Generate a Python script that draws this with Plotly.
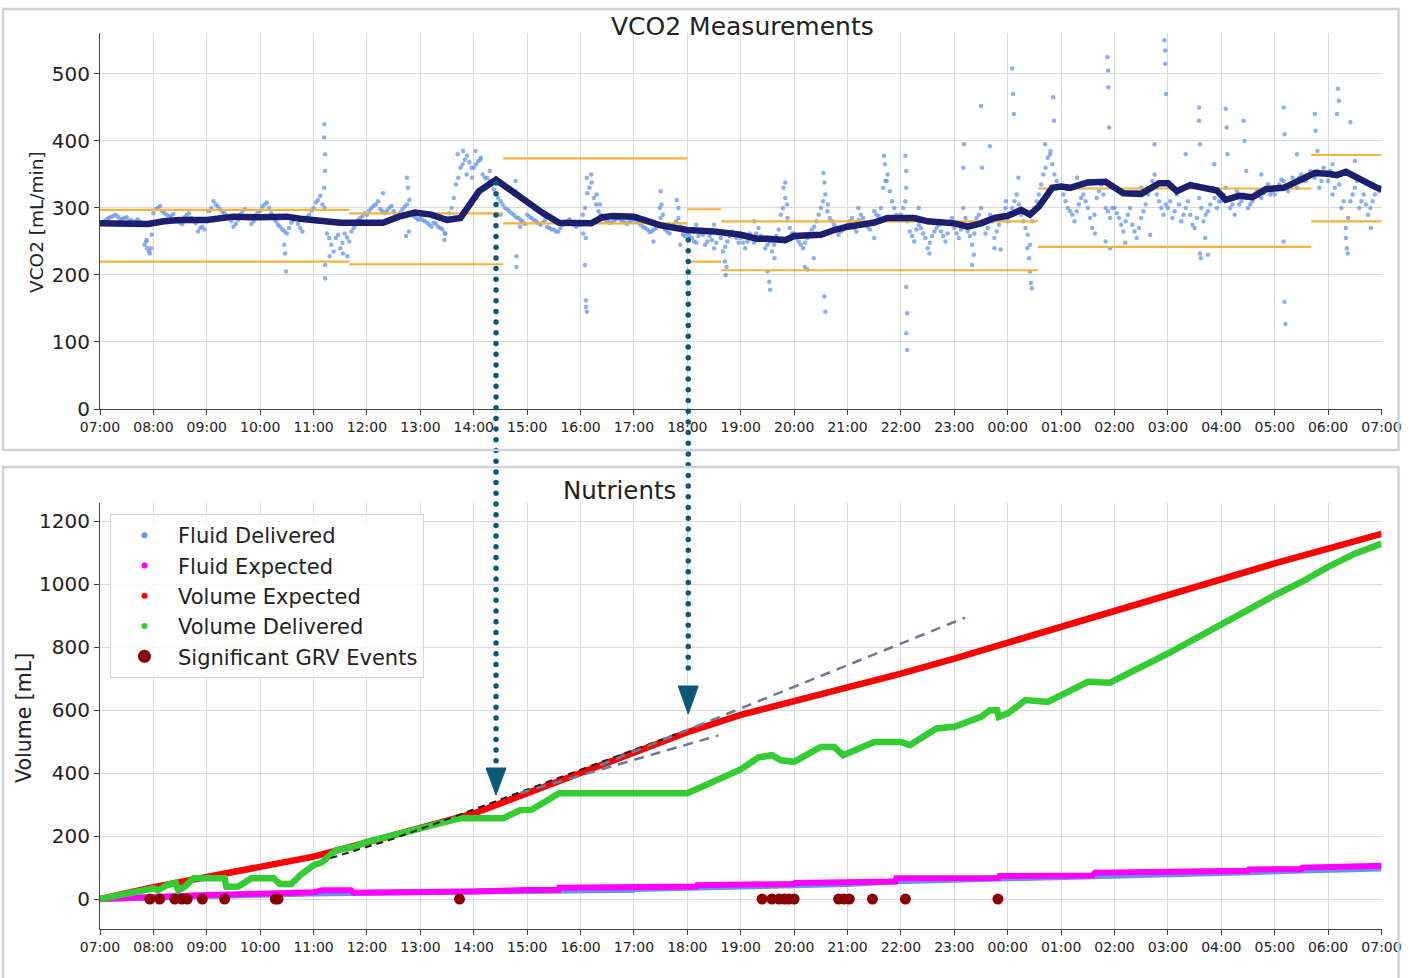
import plotly.graph_objects as go

W, H = 1411, 978

hour_labels = ["07:00", "08:00", "09:00", "10:00", "11:00", "12:00", "13:00", "14:00",
               "15:00", "16:00", "17:00", "18:00", "19:00", "20:00", "21:00", "22:00",
               "23:00", "00:00", "01:00", "02:00", "03:00", "04:00", "05:00", "06:00", "07:00"]

# ---- VCO2 raw samples (one row per hour starting 07:00, one value every 5 min) ----
vco2_rows = [
    [278, 280, 285, 288, 287, 284, 286, 282, 280, 279, 245, 235],  # 07
    [292, 300, 295, 290, 288, 283, 278, 286, 292, 280, 265, 272],  # 08
    [280, 300, 305, 298, 292, 286, 272, 282, 295, 288, 276, 290],  # 09
    [296, 305, 300, 285, 275, 268, 262, 278, 285, 270, 282, 290],  # 10
    [300, 312, 305, 262, 245, 255, 240, 262, 250, 270, 282, 288],  # 11
    [290, 300, 305, 298, 292, 300, 295, 290, 298, 305, 292, 285],  # 12
    [285, 280, 275, 278, 272, 268, 285, 300, 335, 360, 372, 368],  # 13
    [360, 370, 350, 345, 335, 320, 310, 300, 295, 290, 285, 280],  # 14
    [290, 285, 280, 275, 282, 270, 268, 265, 275, 280, 278, 272],  # 15
    [275, 300, 330, 315, 295, 285, 280, 278, 283, 282, 278, 280],  # 16
    [283, 278, 272, 268, 265, 270, 285, 268, 262, 275, 285, 260],  # 17
    [262, 255, 248, 265, 245, 258, 240, 262, 235, 250, 265, 255],  # 18
    [255, 240, 262, 248, 270, 255, 245, 235, 258, 290, 315, 270],  # 19
    [262, 250, 240, 255, 268, 280, 300, 320, 285, 275, 260, 268],  # 20
    [275, 285, 265, 290, 278, 268, 295, 288, 330, 350, 310, 290],  # 21
    [290, 310, 265, 250, 275, 262, 240, 258, 270, 265, 250, 280],  # 22
    [270, 255, 300, 265, 245, 285, 300, 262, 290, 255, 275, 290],  # 23
    [280, 300, 320, 290, 270, 245, 300, 320, 350, 375, 365, 340],  # 00
    [330, 310, 295, 280, 305, 320, 300, 270, 315, 335, 300, 285],  # 01
    [300, 285, 265, 290, 275, 255, 285, 305, 330, 350, 310, 290],  # 02
    [300, 285, 320, 280, 300, 290, 270, 315, 280, 295, 330, 300],  # 03
    [310, 330, 300, 315, 305, 320, 300, 310, 325, 315, 330, 320],  # 04
    [320, 335, 340, 325, 345, 330, 350, 340, 355, 345, 330, 360],  # 05
    [340, 320, 350, 300, 270, 310, 330, 300, 320, 290, 310, 330],  # 06
]
# second pass of readings, taken 2.5 min after those above
vco2_rows_b = [
    [276, 283, 287, 290, 283, 285, 281, 279, 283, 276, 252, 240],  # 07
    [298, 303, 292, 287, 291, 280, 276, 289, 285, 277, 270, 268],  # 08
    [295, 310, 302, 294, 288, 280, 276, 290, 298, 284, 280, 294],  # 09
    [302, 308, 292, 280, 272, 265, 270, 282, 276, 265, 286, 296],  # 10
    [308, 318, 300, 255, 235, 260, 248, 256, 265, 275, 285, 292],  # 11
    [296, 303, 310, 295, 296, 303, 290, 293, 302, 312, 288, 282],  # 12
    [282, 278, 272, 276, 270, 262, 292, 315, 345, 365, 378, 360],  # 13
    [365, 372, 345, 340, 328, 315, 305, 298, 292, 286, 282, 276],  # 14
    [287, 282, 277, 278, 272, 268, 265, 270, 278, 283, 275, 274],  # 15
    [290, 322, 338, 305, 290, 283, 278, 281, 286, 280, 276, 282],  # 16
    [280, 275, 270, 264, 268, 275, 290, 265, 270, 280, 272, 258],  # 17
    [258, 250, 258, 260, 250, 252, 248, 255, 242, 258, 260, 248],  # 18
    [248, 250, 256, 262, 258, 240, 250, 245, 268, 300, 285, 262],  # 19
    [255, 245, 248, 262, 272, 290, 310, 295, 280, 270, 265, 272],  # 20
    [280, 270, 282, 285, 272, 280, 290, 300, 340, 325, 300, 285],  # 21
    [300, 280, 258, 268, 270, 255, 248, 265, 275, 258, 262, 285],  # 22
    [262, 268, 285, 258, 262, 290, 280, 270, 280, 265, 282, 300],  # 23
    [292, 310, 305, 280, 260, 280, 310, 335, 360, 380, 350, 330],  # 00
    [320, 300, 290, 295, 315, 310, 285, 290, 325, 320, 295, 300],  # 01
    [292, 275, 280, 300, 265, 270, 295, 320, 340, 320, 300, 305],  # 02
    [310, 295, 305, 290, 310, 275, 285, 300, 290, 305, 315, 310],  # 03
    [320, 315, 305, 325, 310, 315, 305, 320, 318, 322, 335, 325],  # 04
    [328, 342, 330, 335, 338, 345, 340, 348, 350, 355, 340, 352],  # 05
    [355, 330, 335, 310, 285, 320, 340, 310, 305, 300, 320, 325],  # 06
]

# extra scattered VCO2 readings (spikes and dips)
vco2_extra_times = [
    "07:52", "07:53", "07:56", "07:58", "10:27", "10:28", "10:29",
    "11:12", "11:12", "11:13", "11:13", "11:12", "11:13", "11:13", "11:18", "11:33", "11:38",
    "12:18", "12:45", "12:46", "12:47", "12:44",
    "13:27", "13:28", "13:42", "13:48", "13:52", "13:58",
    "14:02", "14:08", "14:18", "14:47", "14:47", "14:48", "14:48", "14:30", "14:52",
    "16:07", "16:12", "16:18", "16:03", "16:06", "16:05", "16:06", "16:06", "16:07", "16:22",
    "17:30", "17:31", "17:29", "17:48", "17:50", "17:22", "17:52",
    "18:42", "18:44", "18:43", "18:30", "18:10",
    "19:30", "19:32", "19:33", "19:48", "19:50", "19:52", "19:38", "19:15",
    "20:33", "20:34", "20:12", "20:15", "20:34", "20:35", "20:38", "20:22",
    "21:41", "21:42", "21:44", "21:30", "21:12",
    "22:05", "22:06", "22:06", "22:06", "22:07", "22:06", "22:07", "22:20", "22:32",
    "23:10", "23:11", "23:20", "23:22", "23:30", "23:31", "23:40", "23:45", "23:52", "23:58",
    "00:05", "00:06", "00:07", "00:24", "00:25", "00:26", "00:27", "00:42", "00:48", "00:51", "00:52", "00:12", "00:22",
    "01:52", "01:53", "01:53", "01:54", "01:50", "01:55", "01:30", "01:18", "01:38",
    "02:56", "02:57", "02:57", "02:58", "02:45", "02:12", "02:40", "02:30",
    "03:35", "03:35", "03:36", "03:36", "03:37", "03:45", "03:52", "03:20", "03:42",
    "04:05", "04:06", "04:07", "04:25", "04:26", "04:28", "04:45", "04:15",
    "05:10", "05:11", "05:10", "05:11", "05:12", "05:45", "05:46", "05:48", "05:25",
    "06:11", "06:12", "06:10", "06:20", "06:21", "06:22", "06:25", "06:30", "06:05", "06:48",
]
vco2_extra_values = [
    250, 240, 232, 260, 245, 232, 205,
    425, 405, 380, 355, 330, 215, 195, 228, 232, 228,
    322, 345, 330, 265, 258,
    252, 262, 380, 385, 350, 345,
    385, 375, 355, 340, 325, 228, 212, 290, 272,
    345, 350, 320, 262, 255, 215, 162, 152, 145, 305,
    325, 305, 300, 312, 300, 250, 245,
    220, 212, 200, 275, 275,
    205, 190, 178, 330, 338, 305, 225, 280,
    352, 338, 212, 208, 168, 145, 305, 225,
    378, 365, 340, 255, 300,
    378, 355, 330, 182, 143, 113, 88, 300, 232,
    360, 395, 215, 230, 452, 360, 392, 240, 238, 310,
    508, 470, 440, 225, 205, 188, 180, 395, 385, 465, 430, 345, 240,
    525, 505, 480, 420, 250, 240, 340, 345, 262,
    550, 535, 515, 470, 395, 248, 260, 330,
    450, 430, 395, 232, 225, 230, 365, 380, 255,
    448, 420, 380, 430, 400, 355, 350, 290,
    450, 410, 250, 160, 127, 440, 415, 385, 380,
    478, 460, 440, 255, 240, 232, 428, 370, 365, 270,
]

# smoothed VCO2 trend
trend_times = ["07:00", "07:30", "07:54", "08:12", "08:30", "09:00", "09:18", "09:30", "10:00", "10:30",
               "10:45", "11:00", "11:18", "11:30", "12:00", "12:18", "12:36", "12:54", "13:12", "13:30",
               "13:45", "14:00", "14:06", "14:25", "14:42", "15:00", "15:18", "15:36", "16:00", "16:12",
               "16:24", "16:36", "17:00", "17:18", "17:30", "18:00", "18:30", "19:00", "19:18", "19:30",
               "19:50", "20:00", "20:30", "20:45", "21:00", "21:30", "21:45", "22:15", "22:30", "23:00",
               "23:15", "23:30", "23:45", "00:00", "00:15", "00:25", "00:35", "00:50", "01:00", "01:10",
               "01:30", "01:50", "02:10", "02:30", "02:50", "03:00", "03:10", "03:25", "03:40", "03:55",
               "04:05", "04:20", "04:35", "04:50", "05:10", "05:25", "05:45", "06:00", "06:10", "06:20",
               "06:40", "06:55", "07:00"]
trend_values = [277, 277, 276, 280, 282, 282, 286, 287, 286, 287,
                284, 282, 282, 278, 278, 278, 287, 293, 290, 282,
                285, 312, 325, 342, 325, 307, 292, 278, 278, 277,
                286, 288, 287, 280, 274, 267, 265, 260, 254, 254,
                252, 258, 260, 267, 272, 278, 285, 285, 280, 277,
                272, 277, 285, 288, 297, 290, 302, 330, 332, 330,
                338, 339, 322, 321, 337, 337, 325, 334, 330, 326,
                312, 318, 316, 328, 330, 339, 352, 351, 349, 354,
                339, 330, 328]

# expected VCO2 range (step bounds)
bound_edges = ["07:00", "11:40", "14:33", "18:00", "18:38", "00:34", "05:41", "07:00"]
upper_bound = [297, 292, 374, 298, 280, 329, 379]
lower_bound = [220, 216, 277, 220, 207, 242, 280]

# ---- Nutrients ----
vol_expected_times = hour_labels
vol_expected = [0, 38, 70, 100, 135, 180, 225, 272, 336, 400, 463, 530, 585, 627, 670, 716,
                764, 815, 864, 912, 965, 1017, 1066, 1113, 1160]

vol_delivered_times = ["07:00", "07:30", "08:00", "08:05", "08:15", "08:25", "08:28", "08:35", "08:45", "09:20",
                       "09:22", "09:35", "09:50", "10:15", "10:22", "10:35", "10:45", "11:00", "11:10", "11:25",
                       "11:45", "12:00", "13:00", "13:45", "14:33", "14:52", "15:05", "15:36", "18:00", "18:40",
                       "19:00", "19:20", "19:35", "19:45", "20:00", "20:30", "20:45", "20:55", "21:15", "21:30",
                       "22:00", "22:10", "22:40", "23:00", "23:30", "23:40", "23:48", "23:50", "00:00", "00:20",
                       "00:45", "01:00", "01:30", "01:55", "02:00", "03:00", "03:30", "03:45", "04:00", "04:30",
                       "05:00", "05:30", "06:00", "06:30", "07:00"]
vol_delivered = [0, 19, 34, 28, 44, 52, 28, 39, 66, 66,
                 39, 39, 66, 66, 48, 48, 76, 108, 118, 155,
                 166, 182, 224, 257, 257, 282, 284, 336, 336, 390,
                 412, 450, 457, 441, 436, 483, 483, 457, 483, 499,
                 499, 489, 542, 547, 579, 600, 600, 579, 590, 632,
                 626, 648, 690, 687, 695, 780, 827, 849, 875, 923,
                 965, 1007, 1055, 1097, 1129]

fluid_expected_times = ["07:00", "08:00", "09:00", "10:00", "11:00", "11:10", "11:42", "11:45", "13:00", "14:00",
                        "15:00", "15:35", "15:36", "17:00", "17:01", "18:10", "18:11", "19:00", "19:01", "20:00",
                        "20:01", "21:00", "21:01", "21:54", "21:55", "23:50", "23:51", "01:35", "01:38", "03:30",
                        "03:31", "04:30", "04:31", "05:30", "05:31", "06:40", "06:42", "07:00"]
fluid_expected = [0, 8, 13, 17, 22, 28, 28, 20, 21, 24,
                  29, 29, 36, 36, 39, 40, 44, 44, 48, 48,
                  51, 52, 55, 56, 66, 67, 73, 75, 84, 85,
                  89, 90, 94, 95, 100, 101, 105, 106]

fluid_delivered_times = ["07:00", "08:00", "09:00", "10:00", "11:00", "11:45", "13:00", "14:00", "15:00", "15:36",
                         "17:00", "17:01", "18:11", "19:01", "20:01", "21:01", "21:55", "23:51", "01:38", "03:31",
                         "04:31", "05:31", "06:42", "07:00"]
fluid_delivered = [0, 6, 10, 14, 18, 19, 20, 22, 25, 28,
                   30, 32, 36, 40, 44, 48, 57, 64, 75, 80,
                   85, 91, 96, 97]

grv_times = ["07:56", "08:07", "08:24", "08:32", "08:38", "08:55", "09:20", "10:17", "10:20", "13:44",
             "19:24", "19:35", "19:43", "19:49", "19:54", "20:00", "20:50", "20:56", "21:02", "21:28",
             "22:05", "23:49"]
grv_values = [0] * len(grv_times)

# annotation helper lines (slopes)
tangent_times = ["11:19", "12:30", "13:22", "15:14", "16:29", "17:59"]
tangent_values = [130, 192, 245, 362, 441, 536]
slope_a_times = ["16:22", "23:12"]
slope_a_values = [425, 894]
slope_b_times = ["14:52", "18:35"]
slope_b_values = [337, 520]

arrow_times = ["14:25", "18:01"]


def hm(s):
    h, m = map(int, s.split(":"))
    return (h - 7) % 24 + m / 60.0


def unwrap(ts):
    out, prev = [], -1.0
    for s in ts:
        v = hm(s)
        if v < prev - 1e-9:
            v += 24
        out.append(v)
        prev = v
    return out


# ---- derived arrays ----
raw_x, raw_y = [], []
for offset, rows in ((0.0, vco2_rows), (2.5, vco2_rows_b)):
    for i, row in enumerate(rows):
        for j, v in enumerate(row):
            raw_x.append(i + (j * 5 + offset) / 60.0)
            raw_y.append(v)
raw_x += [hm(t) for t in vco2_extra_times]
raw_y += vco2_extra_values

edges = unwrap(bound_edges)


def step_xy(vals):
    xs, ys = [], []
    for k, v in enumerate(vals):
        xs += [edges[k], edges[k + 1], None]
        ys += [v, v, None]
    return xs, ys


ux, uy = step_xy(upper_bound)
lx, ly = step_xy(lower_bound)

# ---- layout geometry ----
XL, XR = 100 / W, 1381.5 / W


def py(p):
    return 1 - p / H


fig = go.Figure()

C_FONT = "#222222"
GRID = "#dadada"
FAM = "DejaVu Sans"

fig.add_trace(go.Scatter(x=raw_x, y=raw_y, mode="markers",
                         marker=dict(color="#6495ed", size=4.5, opacity=0.75),
                         showlegend=False, xaxis="x", yaxis="y", hoverinfo="skip"))
fig.add_trace(go.Scatter(x=ux, y=uy, mode="lines", line=dict(color="#f4b23e", width=2.2),
                         showlegend=False, xaxis="x", yaxis="y"))
fig.add_trace(go.Scatter(x=lx, y=ly, mode="lines", line=dict(color="#f4b23e", width=2.2),
                         showlegend=False, xaxis="x", yaxis="y"))
fig.add_trace(go.Scatter(x=unwrap(trend_times), y=trend_values, mode="lines",
                         line=dict(color="#1b1f6e", width=6.5), showlegend=False, xaxis="x", yaxis="y"))

# bottom panel lines
fig.add_trace(go.Scatter(x=unwrap(fluid_delivered_times), y=fluid_delivered, mode="lines",
                         line=dict(color="#6495ed", width=6), showlegend=False, xaxis="x2", yaxis="y2"))
fig.add_trace(go.Scatter(x=unwrap(fluid_expected_times), y=fluid_expected, mode="lines",
                         line=dict(color="#ff00ff", width=6), showlegend=False, xaxis="x2", yaxis="y2"))
fig.add_trace(go.Scatter(x=unwrap(vol_expected_times), y=vol_expected, mode="lines",
                         line=dict(color="#ff0000", width=6.5), showlegend=False, xaxis="x2", yaxis="y2"))
fig.add_trace(go.Scatter(x=unwrap(vol_delivered_times), y=vol_delivered, mode="lines",
                         line=dict(color="#33cc33", width=6.5), showlegend=False, xaxis="x2", yaxis="y2"))
fig.add_trace(go.Scatter(x=[hm(t) for t in grv_times], y=grv_values, mode="markers",
                         marker=dict(color="#8b0000", size=11), showlegend=False, xaxis="x2", yaxis="y2"))
fig.add_trace(go.Scatter(x=unwrap(tangent_times), y=tangent_values, mode="lines",
                         line=dict(color="#222222", width=2, dash="7px,5px"),
                         showlegend=False, xaxis="x2", yaxis="y2"))
for tt, vv in ((slope_a_times, slope_a_values), (slope_b_times, slope_b_values)):
    fig.add_trace(go.Scatter(x=unwrap(tt), y=vv, mode="lines",
                             line=dict(color="#6a7c98", width=2.5, dash="10px,7px"),
                             showlegend=False, xaxis="x2", yaxis="y2"))

# dotted arrow stems on a full-height overlay (y in page pixels)
arrow_geo = [(183, 762, 768, 795), (240, 677, 686, 714)]
for t, (ytop, ydot, ytri, ytip) in zip(arrow_times, arrow_geo):
    n = int((ydot - ytop) / 10.7) + 1
    fig.add_trace(go.Scatter(x=[hm(t)] * n, y=[ytop + k * 10.7 for k in range(n)], mode="markers",
                             marker=dict(color="#0c5877", size=5.5, line=dict(width=0)),
                             showlegend=False, xaxis="x3", yaxis="y3", hoverinfo="skip"))

# legend entries
legend_items = [("Fluid Delivered", "#6495ed", 6), ("Fluid Expected", "#ff00ff", 6),
                ("Volume Expected", "#ff0000", 6), ("Volume Delivered", "#33cc33", 6),
                ("Significant GRV Events", "#8b0000", 13)]
for k, (nm, col, sz) in enumerate(legend_items):
    fig.add_trace(go.Scatter(x=[None], y=[None], mode="markers", name=nm,
                             marker=dict(color=col, size=sz),
                             xaxis="x2", yaxis="y2"))

axis_common = dict(showgrid=True, gridcolor=GRID, gridwidth=1, zeroline=False,
                   showline=True, linecolor="#444444", linewidth=1.2, automargin=False,
                   ticks="outside", ticklen=5, tickcolor="#444444", mirror=False)

xcommon = dict(axis_common, range=[0, 24], tickvals=list(range(25)), ticktext=hour_labels,
               domain=[XL, XR], tickfont=dict(family=FAM, size=14, color=C_FONT))

shapes = []
# panel frames
shapes.append(dict(type="rect", xref="paper", yref="paper", x0=3 / W, x1=1398.5 / W,
                   y0=py(450), y1=py(9), line=dict(color="#ccd3de", width=2.5)))
shapes.append(dict(type="rect", xref="paper", yref="paper", x0=3 / W, x1=1398.5 / W,
                   y0=py(1000), y1=py(467), line=dict(color="#ccd3de", width=2.5)))
# arrow heads
for t, (ytop, ydot, ytri, ytip) in zip(arrow_times, arrow_geo):
    xh = hm(t)
    hw = 10 / 53.4
    shapes.append(dict(type="path", xref="x3", yref="y3",
                       path="M %f,%f L %f,%f L %f,%f Z" % (xh - hw, ytri, xh + hw, ytri, xh, ytip),
                       fillcolor="#0c5877", line=dict(color="#0c5877", width=1)))

annotations = [
    dict(text="VCO2 Measurements", x=742 / W, y=py(27), xref="paper", yref="paper", showarrow=False,
         font=dict(family=FAM, size=25, color=C_FONT), xanchor="center", yanchor="middle"),
    dict(text="Nutrients", x=619 / W, y=py(490), xref="paper", yref="paper", showarrow=False,
         font=dict(family=FAM, size=24.5, color=C_FONT), xanchor="center", yanchor="middle"),
    dict(text="VCO2 [mL/min]", x=36 / W, y=py(222), xref="paper", yref="paper", showarrow=False,
         textangle=-90, font=dict(family=FAM, size=18.5, color=C_FONT), xanchor="center", yanchor="middle"),
    dict(text="Volume [mL]", x=24 / W, y=py(718), xref="paper", yref="paper", showarrow=False,
         textangle=-90, font=dict(family=FAM, size=20.5, color=C_FONT), xanchor="center", yanchor="middle"),
]

fig.update_layout(
    width=W, height=H, autosize=False,
    margin=dict(l=0, r=0, t=0, b=0, pad=0),
    paper_bgcolor="white", plot_bgcolor="rgba(0,0,0,0)",
    font=dict(family=FAM, color=C_FONT),
    xaxis=dict(xcommon, anchor="y", ticklabelstandoff=0),
    yaxis=dict(axis_common, domain=[py(409), py(33)], range=[0, 561], anchor="x",
               tickvals=[0, 100, 200, 300, 400, 500],
               tickfont=dict(family=FAM, size=20, color=C_FONT)),
    xaxis2=dict(xcommon, anchor="y2"),
    yaxis2=dict(axis_common, domain=[py(929), py(503)], range=[-95, 1258], anchor="x2",
                tickvals=[0, 200, 400, 600, 800, 1000, 1200],
                tickfont=dict(family=FAM, size=20, color=C_FONT)),
    xaxis3=dict(domain=[XL, XR], range=[0, 24], visible=False, showgrid=False, zeroline=False,
                anchor="y3", automargin=False, fixedrange=True),
    yaxis3=dict(domain=[0, 1], range=[H, 0], visible=False, showgrid=False, zeroline=False,
                anchor="x3", automargin=False, fixedrange=True),
    legend=dict(x=110 / W, y=py(514), xanchor="left", yanchor="top",
                bgcolor="rgba(255,255,255,0.8)", bordercolor="#d6d6d6", borderwidth=1,
                font=dict(family=FAM, size=21, color=C_FONT),
                tracegroupgap=0, itemwidth=57),
    shapes=shapes,
    annotations=annotations,
)

fig.write_html("out.html", config={"displayModeBar": False},
               post_script="document.body.style.margin='0';document.body.style.overflow='hidden';")
